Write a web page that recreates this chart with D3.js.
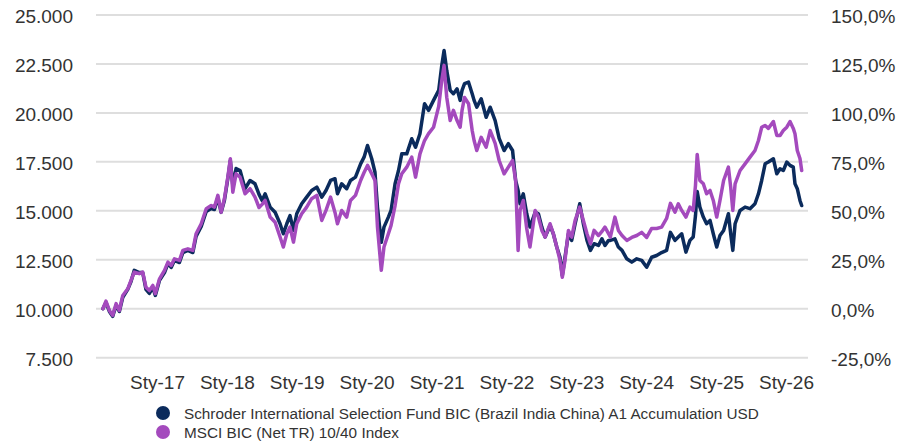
<!DOCTYPE html>
<html>
<head>
<meta charset="utf-8">
<script src="https://cdn.jsdelivr.net/npm/d3@7"></script>
<style>
  body { margin: 0; background: #fff; }
  svg { display: block; font-family: "Liberation Sans", Arial, sans-serif; }
</style>
</head>
<body>
<svg></svg>
<script>
const width = 898;
const height = 442;

// series names
const seriesNames = [
  'Schroder International Selection Fund BIC (Brazil India China) A1 Accumulation USD',
  'MSCI BIC (Net TR) 10/40 Index'
];

// dates of the readings
const dates = [
  '2016-03-24','2016-04-09','2016-04-27','2016-05-14','2016-06-01','2016-06-18','2016-07-06','2016-08-01',
  '2016-08-18','2016-09-04','2016-09-30','2016-10-18','2016-11-04','2016-11-22','2016-12-10','2016-12-23',
  '2017-01-14','2017-02-09','2017-02-27','2017-03-16','2017-04-02','2017-04-28','2017-05-16','2017-06-11',
  '2017-07-07','2017-07-24','2017-08-20','2017-09-15','2017-10-11','2017-10-28','2017-11-15','2017-12-02',
  '2017-12-19','2018-01-06','2018-01-19','2018-02-01','2018-02-18','2018-03-11','2018-04-06','2018-05-02',
  '2018-05-28','2018-06-18','2018-07-04','2018-07-20','2018-08-15','2018-09-10','2018-10-06','2018-10-23',
  '2018-11-10','2018-11-27','2018-12-15','2019-01-01','2019-01-27','2019-02-22','2019-03-20','2019-04-16',
  '2019-05-12','2019-06-03','2019-06-27','2019-07-20','2019-08-02','2019-08-24','2019-09-19','2019-10-09',
  '2019-11-04','2019-12-01','2019-12-19','2020-01-06','2020-01-28','2020-02-14','2020-02-27','2020-03-18',
  '2020-04-01','2020-04-24','2020-05-08','2020-05-29','2020-06-16','2020-07-03','2020-07-29','2020-08-24',
  '2020-09-13','2020-10-06','2020-10-30','2020-11-20','2020-12-16','2021-01-12','2021-01-28','2021-02-09',
  '2021-02-23','2021-03-13','2021-03-30','2021-04-18','2021-05-04','2021-05-14','2021-05-27','2021-06-17',
  '2021-07-06','2021-07-16','2021-07-30','2021-08-22','2021-09-17','2021-10-08','2021-11-03','2021-11-24',
  '2021-12-20','2022-01-11','2022-02-02','2022-02-18','2022-03-03','2022-03-13','2022-03-30','2022-04-17',
  '2022-05-04','2022-05-31','2022-06-17','2022-07-05','2022-07-22','2022-08-17','2022-09-03','2022-09-21',
  '2022-10-08','2022-10-20','2022-11-03','2022-11-21','2022-12-08','2022-12-26','2023-01-19','2023-02-07',
  '2023-02-26','2023-03-16','2023-04-04','2023-04-27','2023-05-15','2023-05-31','2023-06-18','2023-06-28',
  '2023-07-22','2023-08-09','2023-08-28','2023-09-22','2023-10-18','2023-11-13','2023-12-09','2024-01-04',
  '2024-01-30','2024-02-25','2024-03-22','2024-04-17','2024-05-07','2024-05-31','2024-06-17','2024-07-05',
  '2024-07-27','2024-08-17','2024-09-03','2024-09-15','2024-09-24','2024-10-08','2024-10-26','2024-11-12',
  '2024-11-30','2024-12-17','2025-01-04','2025-01-21','2025-02-09','2025-03-06','2025-03-18','2025-03-29',
  '2025-04-10','2025-05-06','2025-06-01','2025-06-27','2025-07-23','2025-08-10','2025-08-27','2025-09-14',
  '2025-10-01','2025-10-27','2025-11-14','2025-12-01','2025-12-18','2026-01-05','2026-01-22','2026-02-08',
  '2026-02-17','2026-03-01','2026-03-15','2026-03-24'
];

// fund, value of 10.000 invested
const fundValues = [
  10000,10320,9860,9610,10170,9860,10580,10990,11390,11960,11850,11850,10990,10780,11090,10680,
  11450,11850,12310,12110,12470,12360,12870,12980,12870,13690,14200,14970,15120,15070,15680,14920,
  15530,16650,17570,16300,17160,17060,16130,16550,16380,15840,15530,15870,15190,14930,14340,13830,
  14340,14760,14000,14850,15360,15700,16040,16210,15700,16040,16550,16640,15870,16380,16130,16550,
  16720,17400,17740,18340,17660,16970,15190,13390,14170,14680,15020,16380,17060,17910,17910,18680,
  18250,18940,20470,20130,20640,21150,22420,23190,22170,21150,20980,21230,20640,21150,21490,21570,
  20980,20640,20290,20720,19780,20290,19610,18700,18080,18430,18080,16550,16040,15360,15870,14850,
  14170,14930,14850,14170,13660,14250,13830,13150,12630,11700,12630,13830,13490,14340,15360,14340,
  13490,12980,13320,13230,13570,13230,13490,13490,13570,13150,12980,12550,12380,12550,12470,12120,
  12630,12720,12870,12980,13900,13490,13660,13830,12890,13490,13660,14760,15990,15190,14680,14340,
  14510,13830,13150,13740,14000,14850,13830,12980,14340,15020,15190,15110,15360,15870,16550,17400,
  17490,17660,16890,17150,17060,17490,17320,17230,16380,16130,15530,15270
];

// benchmark index
const indexValues = [
  10000,10390,9910,9660,10260,9910,10680,11020,11450,11870,11790,11870,11100,10930,11190,10770,
  11530,11960,12380,12210,12550,12470,12980,13060,12980,13830,14340,15110,15270,15190,15790,14930,
  15620,16720,17660,15950,16890,16720,15870,16130,15700,15170,15330,15530,14680,14420,13660,13150,
  13830,14170,13400,14340,14850,15190,15620,15790,14510,15020,15700,14920,14340,15020,14680,15530,
  15790,16550,16960,17320,16890,16550,14170,11960,13150,13830,14250,15270,16380,16890,17230,17740,
  16720,17910,18590,18940,19270,20330,21660,22420,20800,19610,20130,19610,19270,20130,20790,20470,
  19100,18590,18080,18750,18250,19100,18440,17570,16890,17230,17570,16550,12980,15020,15530,14100,
  13150,15020,14680,14000,13660,14340,13830,13150,12470,11610,12470,14000,13660,14510,15190,14510,
  13830,13320,14000,13740,13950,14170,13850,13660,14680,14000,13740,13490,13640,13740,13900,13640,
  14100,14100,14170,14610,15380,14930,15360,15020,14680,15190,15020,16300,17880,16550,16380,15870,
  16040,15530,14680,15530,16550,17230,16210,15020,16380,17060,17400,17740,18080,18590,19270,19360,
  19210,19560,18850,18850,19100,19270,19560,19210,18940,18080,17670,17060
];

// axis ticks
const leftTicks = [7500, 10000, 12500, 15000, 17500, 20000, 22500, 25000];
const rightTicks = [-25, 0, 25, 50, 75, 100, 125, 150];
const xTickDates = ['2017-01-01','2018-01-01','2019-01-01','2020-01-01','2021-01-01',
                    '2022-01-01','2023-01-01','2024-01-01','2025-01-01','2026-01-01'];
const xTickLabels = ['Sty-17','Sty-18','Sty-19','Sty-20','Sty-21','Sty-22','Sty-23','Sty-24','Sty-25','Sty-26'];

const colors = ['#0b2b5c', '#a44abd'];

const parse = d3.timeParse('%Y-%m-%d');
const plot = { left: 96, right: 808, top: 15, bottom: 357.7 };

const svg = d3.select('svg')
  .attr('width', width)
  .attr('height', height);

const x = d3.scaleTime()
  .domain([parse('2016-02-17'), parse('2026-04-26')])
  .range([plot.left, plot.right]);

const y = d3.scaleLinear()
  .domain([7500, 25000])
  .range([plot.bottom, plot.top]);

const yPct = d3.scaleLinear()
  .domain([-25, 150])
  .range([plot.bottom, plot.top]);

// gridlines
svg.append('g')
  .selectAll('line')
  .data(leftTicks)
  .enter()
  .append('line')
    .attr('x1', plot.left)
    .attr('x2', plot.right)
    .attr('y1', d => y(d))
    .attr('y2', d => y(d))
    .style('stroke', '#dedede')
    .style('stroke-width', 2);

// 25.000 style and 150,0% style, plain hyphen for negatives
const fmtLeft = d => d3.format(',')(d).replace(/,/g, '.');
const fmtRight = d => (d < 0 ? '-' : '') + Math.abs(d).toFixed(1).replace('.', ',') + '%';

const leftAxis = svg.append('g')
  .attr('transform', `translate(${plot.left},0)`)
  .call(d3.axisLeft(y).tickValues(leftTicks).tickFormat(fmtLeft).tickSize(0).tickPadding(23));

const rightAxis = svg.append('g')
  .attr('transform', `translate(${plot.right},0)`)
  .call(d3.axisRight(yPct).tickValues(rightTicks).tickFormat(fmtRight).tickSize(0).tickPadding(23));

const bottomAxis = svg.append('g')
  .attr('transform', `translate(0,${plot.bottom})`)
  .call(d3.axisBottom(x).tickValues(xTickDates.map(parse))
    .tickFormat((d, i) => xTickLabels[i]).tickSize(0).tickPadding(18));

[leftAxis, rightAxis, bottomAxis].forEach(g => {
  g.select('.domain').remove();
  g.selectAll('text')
    .style('font-family', '"Liberation Sans", Arial, sans-serif')
    .style('font-size', '19px')
    .style('fill', '#333');
});
leftAxis.selectAll('text').attr('dy', '0.42em');
rightAxis.selectAll('text').attr('dy', '0.42em');

// lines, index drawn on top
const line = d3.line()
  .x((d, i) => x(parse(dates[i])))
  .y(d => y(d));

[fundValues, indexValues].forEach((vals, k) => {
  svg.append('path')
    .datum(vals)
    .attr('d', line)
    .style('fill', 'none')
    .style('stroke', colors[k])
    .style('stroke-width', 3.5)
    .style('stroke-linejoin', 'round')
    .style('stroke-linecap', 'round');
});

// legend
const legend = svg.append('g')
  .selectAll('g')
  .data(seriesNames)
  .enter()
  .append('g')
    .attr('transform', (d, i) => `translate(163,${413 + i * 19})`);

legend.append('circle')
  .attr('r', 7)
  .style('fill', (d, i) => colors[i]);

legend.append('text')
  .attr('x', 21)
  .attr('y', 5.5)
  .text(d => d)
  .style('font-size', '15.3px')
  .style('fill', '#333');
</script>
</body>
</html>
